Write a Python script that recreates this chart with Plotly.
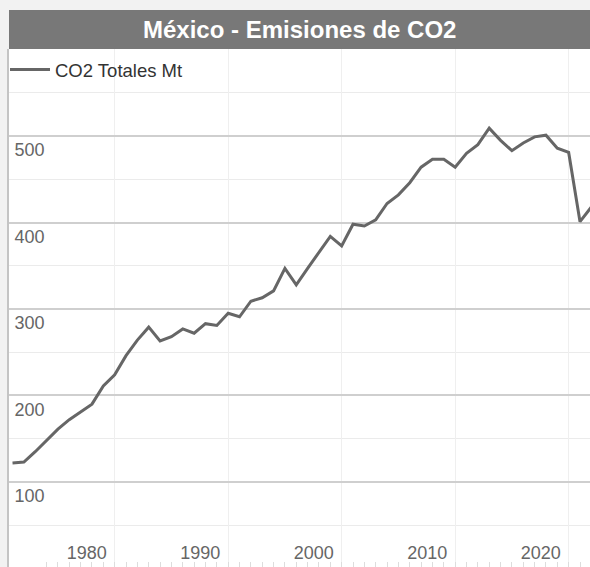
import plotly.graph_objects as go

# ---- data ----
years = list(range(1970, 2022))
co2_totales_mt = [
    122, 123, 135, 148, 161, 172, 181, 190, 211, 224,
    246, 264, 279, 263, 268, 277, 272, 283, 281, 295,
    291, 309, 313, 321, 347, 328, 347, 365, 384, 373,
    398, 396, 403, 422, 432, 446, 464, 473, 473, 464,
    480, 490, 509, 495, 483, 492, 499, 501, 486, 481,
    401, 418,
]
series_name = "CO2 Totales Mt"
chart_title = "México - Emisiones de CO2"
x_tick_labels = ["1980", "1990", "2000", "2010", "2020"]
y_tick_values = [100, 200, 300, 400, 500]

# values are year totals plotted at year end, so the gridline of year L sits at L-1
x_tick_positions = [int(lbl) - 1 for lbl in x_tick_labels]

FONT = "Liberation Sans, Arial, Helvetica, sans-serif"

fig = go.Figure()
fig.add_trace(go.Scatter(
    x=years, y=co2_totales_mt, mode="lines", name=series_name,
    line=dict(color="#666666", width=3),
))

W, H = 590, 567
ml, mr, mt, mb = 9, 0, 49, 0
plot_w = W - ml - mr
plot_h = H - mt - mb
bar_h = 39

fig.update_layout(
    width=W, height=H,
    margin=dict(l=ml, r=mr, t=mt, b=mb, pad=0),
    paper_bgcolor="#f2f2f2",
    plot_bgcolor="#ffffff",
    font=dict(family=FONT, color="#555555"),
    showlegend=True,
    legend=dict(
        x=-4 / plot_w, y=1 - 2 / plot_h, xanchor="left", yanchor="top",
        bgcolor="rgba(0,0,0,0)", borderwidth=0,
        font=dict(size=18.5, color="#333333", family=FONT),
        itemwidth=40,
    ),
    xaxis=dict(
        range=[1969.69, 2020.88],
        tickmode="array", tickvals=x_tick_positions, ticktext=x_tick_labels,
        showgrid=True, gridcolor="#efefef", gridwidth=1,
        ticks="inside", ticklen=5, tickcolor="#dddddd",
        ticklabelposition="inside", ticklabelshift=-28, ticklabelstandoff=0,
        tickfont=dict(size=18, color="#666666", family=FONT),
        minor=dict(tick0=x_tick_positions[0], dtick=1, ticks="inside",
                   ticklen=5, tickcolor="#dddddd", showgrid=False),
        zeroline=False, showline=False, fixedrange=True,
    ),
    yaxis=dict(
        range=[1.7, 600.6],
        tickmode="array", tickvals=y_tick_values,
        showgrid=True, gridcolor="#cfcfcf", gridwidth=1.5,
        ticks="", ticklabelposition="inside",
        ticklabelshift=14, ticklabelstandoff=6,
        tickfont=dict(size=18, color="#666666", family=FONT),
        minor=dict(tick0=0, dtick=50, showgrid=True, gridcolor="#ebebeb", gridwidth=1),
        zeroline=False, showline=True, linecolor="#c4c4c4", linewidth=2,
        fixedrange=True,
    ),
    shapes=[dict(
        type="rect", xref="paper", yref="paper",
        x0=0, x1=1, y0=1, y1=1 + bar_h / plot_h,
        fillcolor="#787878", line=dict(width=0), layer="above",
    )],
    annotations=[dict(
        text="<b>" + chart_title + "</b>", xref="paper", yref="paper",
        x=0.5, y=1 + (bar_h / 2) / plot_h, xanchor="center", yanchor="middle",
        showarrow=False, font=dict(size=24, color="#ffffff", family=FONT),
    )],
)

fig.write_html("out.html")
